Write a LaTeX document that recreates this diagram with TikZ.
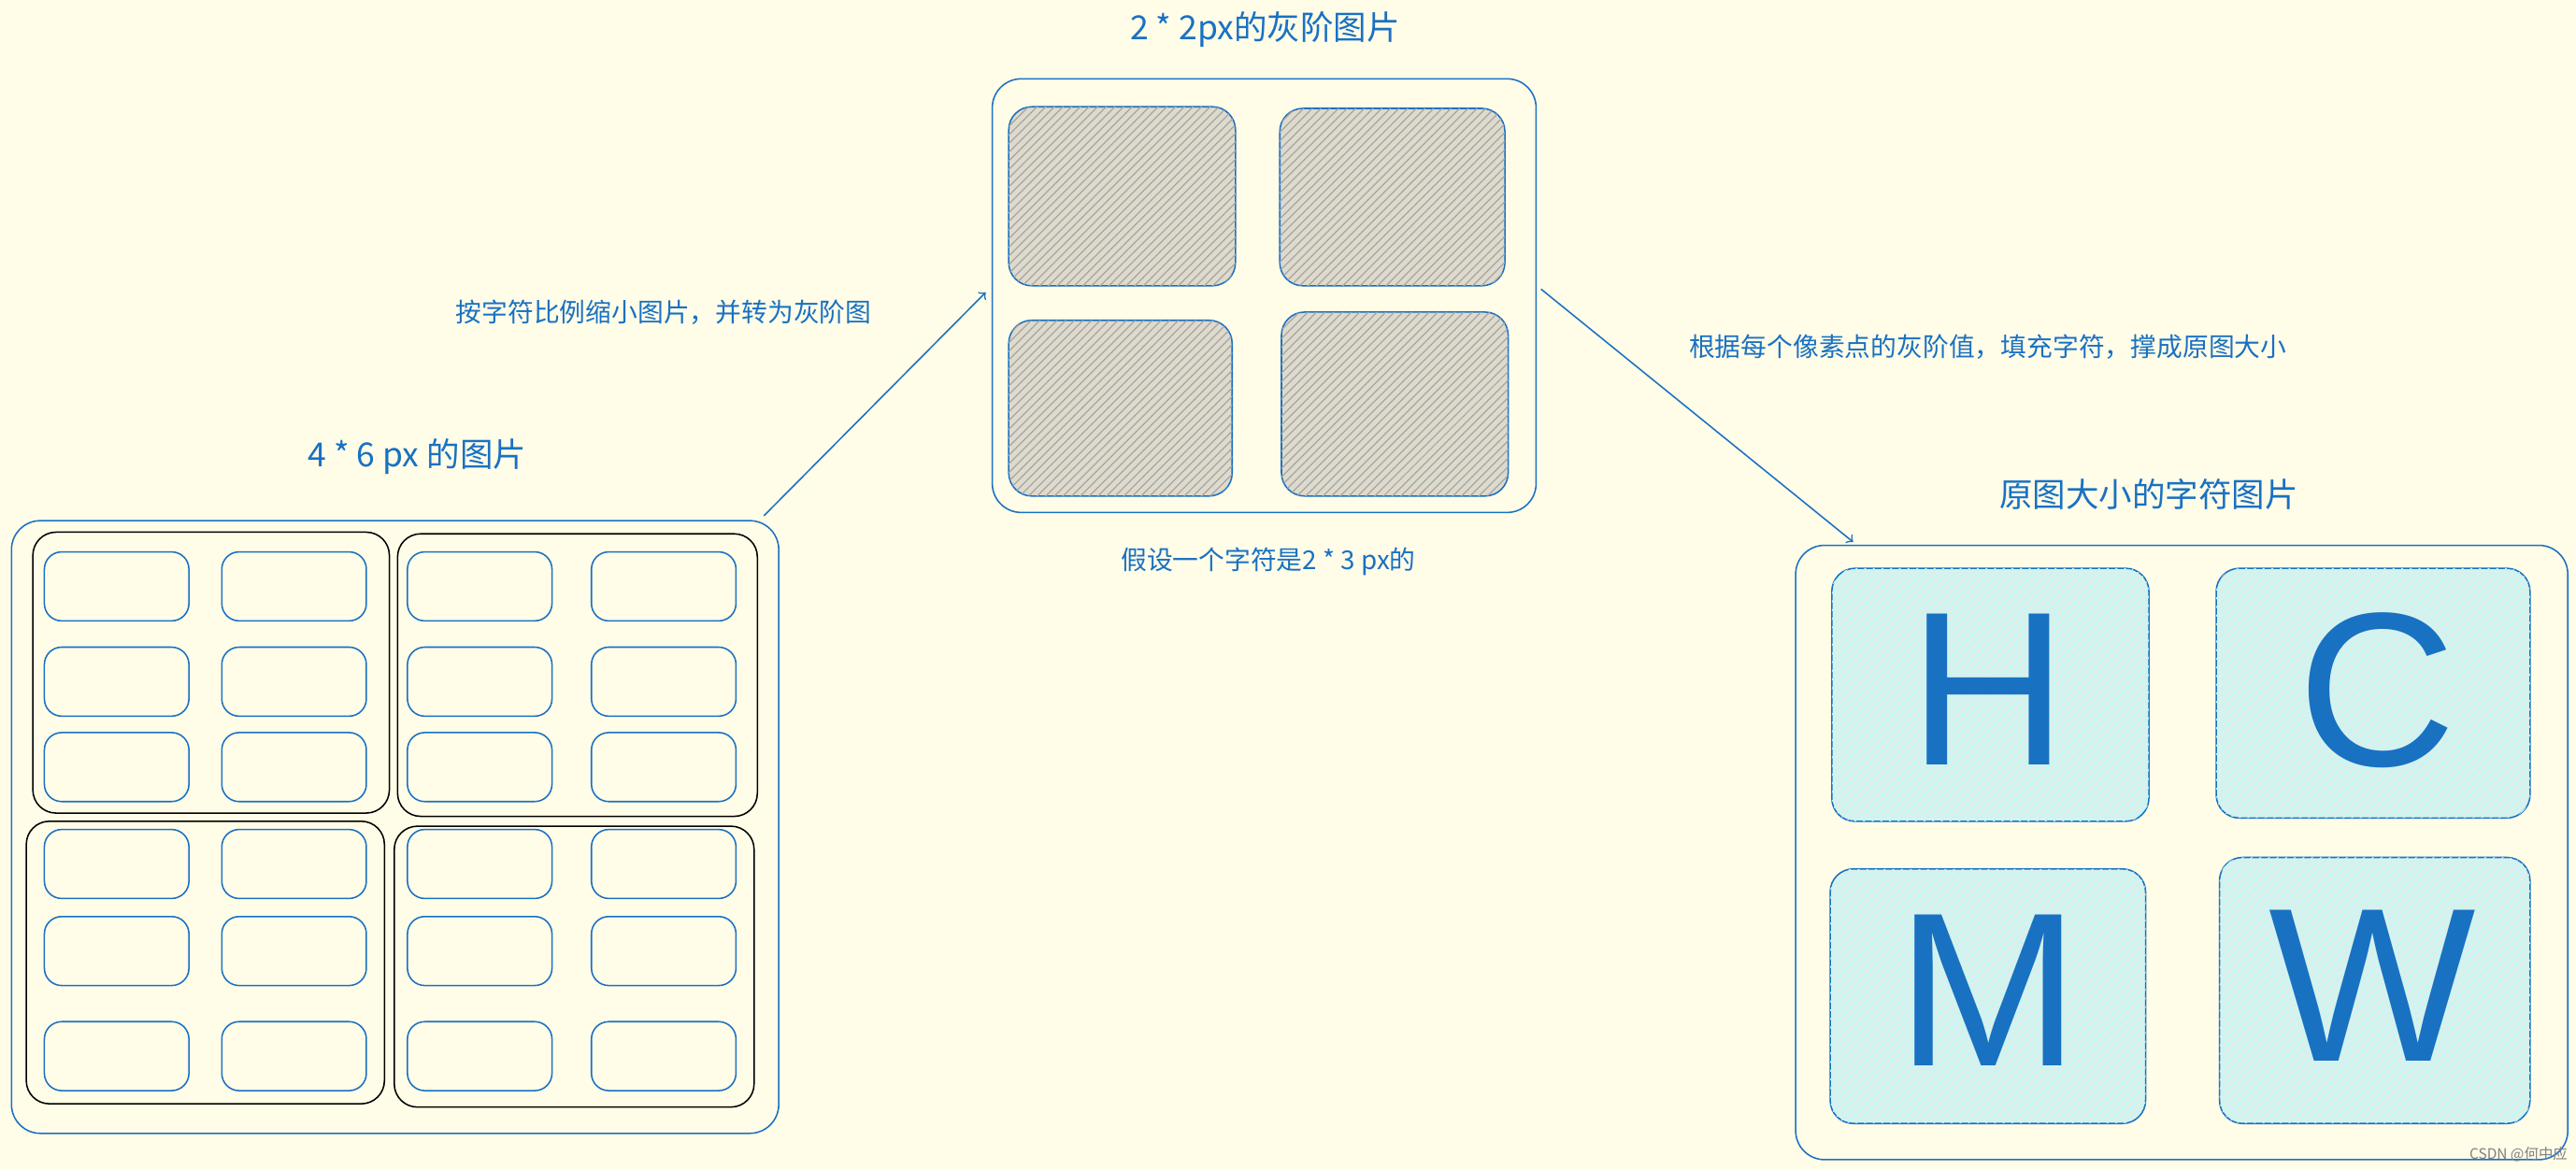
\documentclass[tikz,border=0pt]{standalone}
\usepackage{fontspec}
\setmainfont{Noto Sans CJK SC}
\newfontfamily\latin{Liberation Sans}
\usetikzlibrary{patterns}
\definecolor{bg}{HTML}{FFFCE8}
\definecolor{xblue}{HTML}{1971C2}
\definecolor{gfill}{HTML}{DEDACC}
\definecolor{bfill}{HTML}{DDEFEA}
\begin{document}
\begin{tikzpicture}[x=0.02cm,y=-0.02cm,
  outer/.style={draw=xblue,rounded corners=10pt,line width=0.5pt},
  grp/.style={draw=black,rounded corners=8pt,line width=0.5pt},
  cell/.style={draw=xblue,rounded corners=6pt,line width=0.5pt},
  gcell/.style={draw=xblue,rounded corners=8pt,line width=0.5pt,fill=gfill,postaction={pattern=north east lines,pattern color=gray!70}},
  bcell/.style={draw=xblue,rounded corners=8pt,line width=0.5pt,fill=bfill,postaction={pattern=north east lines,pattern color=cyan!30}},
  ttl/.style={text=xblue,font=\fontsize{11.5}{13}\selectfont},
  lbl/.style={text=xblue,font=\fontsize{9}{10}\selectfont},
  big/.style={text=xblue,font=\latin\fontsize{76}{84}\selectfont},
  arr/.style={draw=xblue,line width=0.5pt,->}]
\fill[bg] (0,0) rectangle (1568,712);
\useasboundingbox (0,0) rectangle (1568,712);
% left
\draw[outer] (7,317) rectangle (474,690);
\node[ttl] (t1) at (254,278) {4 * 6 px 的图片};
\draw[grp] (20,324) rectangle (237,495);
\draw[grp] (242,325) rectangle (461,497);
\draw[grp] (16,500) rectangle (234,672);
\draw[grp] (240,503) rectangle (459,674);
\foreach \x in {27,135,248,360}{
  \foreach \y in {336,394,446,505,558,622}{
    \draw[cell] (\x,\y) rectangle ++(88,42);}}
\coordinate (a1s) at (465,314);
% middle
\draw[outer] (604,48) rectangle (935,312);
\node[ttl] (t2) at (770,18) {2 * 2px的灰阶图片};
\draw[gcell] (614,65) rectangle (752,174);
\draw[gcell] (779,66) rectangle (916,174);
\draw[gcell] (614,195) rectangle (750,302);
\draw[gcell] (780,190) rectangle (918,302);
\node[lbl] (n2) at (772,342) {假设一个字符是2 * 3 px的};
\coordinate (a1e) at (600,178);
\coordinate (a2s) at (938,176);
\coordinate (a2e) at (1128,330);
\draw[arr] (a1s) -- (a1e);
\draw[arr] (a2s) -- (a2e);
\node[lbl] (l1) at (404,190) {按字符比例缩小图片，并转为灰阶图};
\node[lbl] (l2) at (1210,211) {根据每个像素点的灰阶值，填充字符，撑成原图大小};
% right
\draw[outer] (1093,332) rectangle (1563,706);
\node[ttl] (t3) at (1308,301) {原图大小的字符图片};
\draw[bcell] (1115,346) rectangle (1308,500);
\draw[bcell] (1349,346) rectangle (1540,498);
\draw[bcell] (1114,529) rectangle (1306,684);
\draw[bcell] (1351,522) rectangle (1540,684);
\node[big] (h) at (1210,420) {H};
\node[big] (c) at (1447,420) {C};
\node[big] (m) at (1210,603) {M};
\node[big] (w) at (1444,600) {W};
\node[text=gray,font=\fontsize{5}{6}\selectfont] (wm) at (1533,703) {CSDN @何中应};
\end{tikzpicture}
\end{document}
